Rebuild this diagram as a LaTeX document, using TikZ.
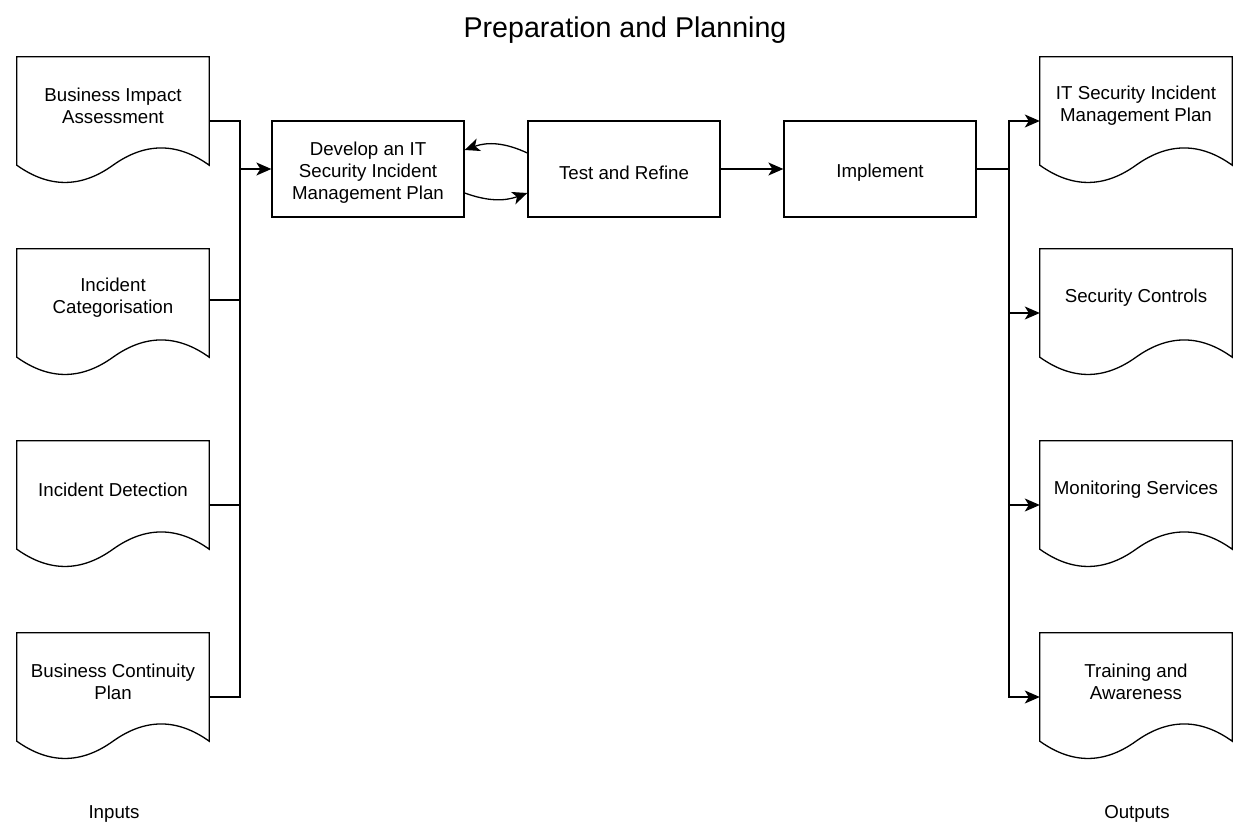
\documentclass[tikz,border=0pt]{standalone}
\usepackage{fontspec}
\setmainfont{Liberation Sans}
\usetikzlibrary{arrows.meta}

\begin{document}
\begin{tikzpicture}[x=1pt, y=-1pt]
  \tikzset{
    txt/.style={
      font=\fontsize{18.7}{22}\selectfont, align=center
    },
    procbox/.style={
      draw, line width=1.3pt, minimum width=192pt, minimum height=96pt, inner sep=0pt,
      label={[txt, yshift=-4pt]center:#1}
    },
    docnode/.style={
      txt, minimum width=192pt, minimum height=98pt, inner sep=0pt
    },
    conn/.style={
      line width=1.3pt
    },
    arr/.style={
      conn, -{Stealth[length=15pt,width=13pt,inset=4pt]}
    }
  }

  \useasboundingbox (0,0) rectangle (1252,837);

  \node [font=\fontsize{28.6}{34}\selectfont] (title) at (625,30) {Preparation and Planning};

  \foreach \i/\y/\t in {1/106/{Business Impact\\Assessment}, 2/298/{Incident\\Categorisation},
                        3/490/{Incident Detection}, 4/682/{Business Continuity\\Plan}} {
    \node [docnode] (in\i) at (113,\y) {\t};
  }
  \foreach \i/\y/\t in {1/106/{IT Security Incident\\Management Plan}, 2/298/{Security Controls},
                        3/490/{Monitoring Services}, 4/682/{Training and\\Awareness}} {
    \node [docnode] (out\i) at (1136,\y) {\t};
  }

  % document outline with wavy bottom
  \foreach \d in {in1, in2, in3, in4, out1, out2, out3, out4} {
    \draw [conn] (\d.north west) -- (\d.north east) -- ([yshift=-10pt]\d.south east)
      .. controls ([xshift=-32pt,yshift=13pt]\d.south east) and ([xshift=-64pt,yshift=13pt]\d.south east) .. ([yshift=-10pt]\d.south)
      .. controls ([xshift=-32pt,yshift=-33pt]\d.south) and ([xshift=-64pt,yshift=-33pt]\d.south) .. ([yshift=-10pt]\d.south west)
      -- cycle;
  }

  \node [procbox={Develop an IT\\Security Incident\\Management Plan}] (dev) at (368,169) {};
  \node [procbox={Test and Refine}] (test) at (624,169) {};
  \node [procbox={Implement}] (impl) at (880,169) {};

  \node [txt] (inputs) at (114,814) {Inputs};
  \node [txt] (outputs) at (1137,814) {Outputs};

  \coordinate (inbus) at (240,169);
  \coordinate (outbus) at (1009,169);

  \foreach \i/\s in {1/15pt, 2/2pt, 3/15pt, 4/15pt} {
    \draw [conn] ([yshift=-\s]in\i.east) -| (inbus);
  }
  \draw [arr] (inbus) -- (dev.west);

  \draw [arr] ([yshift=16pt]test.west) to [out=155, in=20] ([yshift=19pt]dev.east);
  \draw [arr] ([yshift=-24pt]dev.east) to [out=-20, in=200] ([yshift=-24pt]test.west);
  \draw [arr] (test.east) -- (impl.west);

  \draw [conn] (impl.east) -- (outbus);
  \foreach \i in {1, ..., 4} {
    \draw [arr] (outbus) |- ([yshift=-15pt]out\i.west);
  }
\end{tikzpicture}
\end{document}
